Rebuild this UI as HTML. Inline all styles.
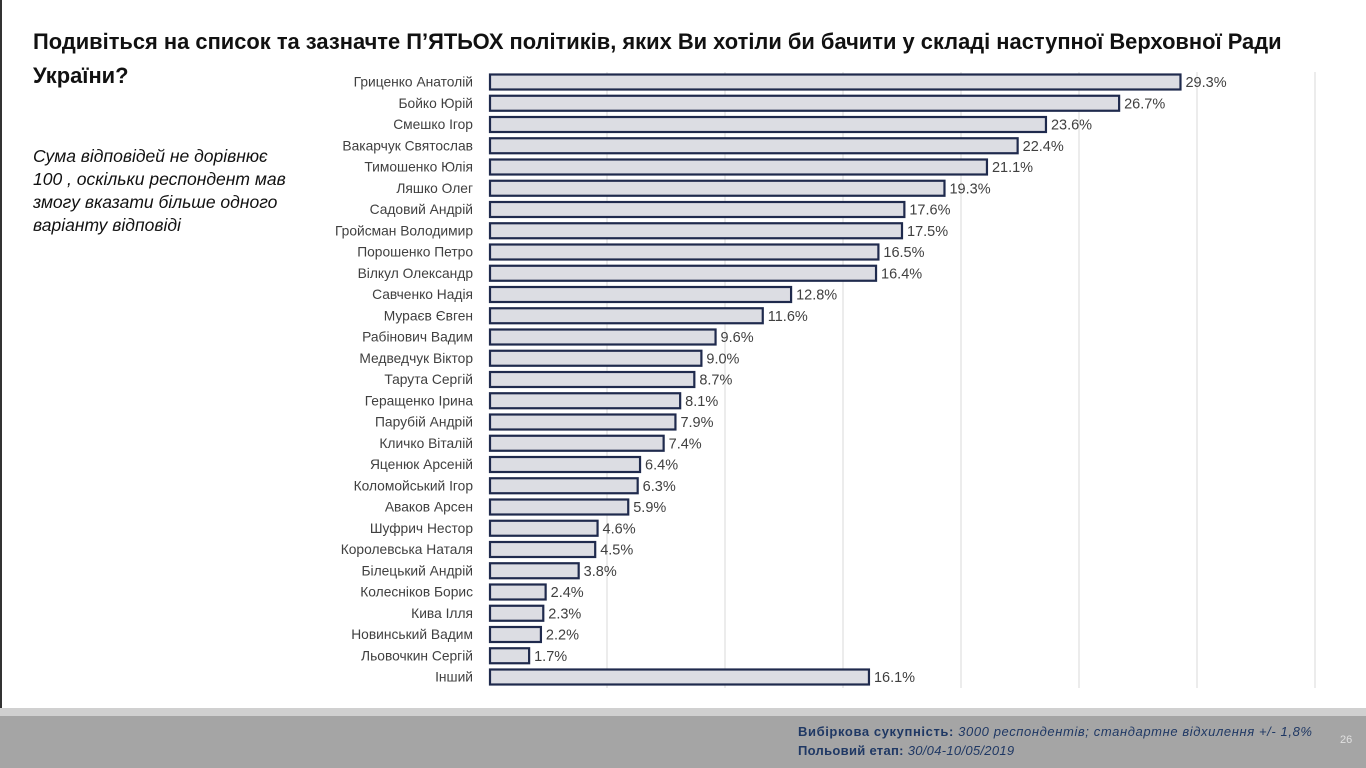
<!DOCTYPE html>
<html><head><meta charset="utf-8">
<style>
html,body{margin:0;padding:0;background:#fff;}
body{width:1366px;height:768px;position:relative;overflow:hidden;font-family:"Liberation Sans","DejaVu Sans",sans-serif;}
#lb{position:absolute;left:0;top:0;width:2px;height:708px;background:#333;}
#title{position:absolute;left:33px;top:25px;font-size:21.9px;font-weight:bold;color:#111;line-height:34px;width:1330px;white-space:nowrap;}
#note{position:absolute;left:33px;top:145px;font-size:17.5px;font-style:italic;color:#111;line-height:23px;width:300px;white-space:nowrap;}
#footer{position:absolute;left:0;top:708px;width:1366px;height:60px;background:#a5a5a5;border-top:8px solid #d0d0d0;box-sizing:border-box;}
#f1{position:absolute;left:798px;top:8px;font-size:13px;color:#1f3864;letter-spacing:0.6px;white-space:nowrap;}
#f2{position:absolute;left:798px;top:27px;font-size:13px;color:#1f3864;letter-spacing:0.3px;white-space:nowrap;}
#pg{position:absolute;left:1340px;top:18px;font-size:11px;color:#e0e0e0;}
svg{position:absolute;left:0;top:0;}
</style></head><body>
<div id="lb"></div>
<div id="title">Подивіться на список та зазначте П’ЯТЬОХ політиків, яких Ви хотіли би бачити у складі наступної Верховної Ради<br>України?</div>
<div id="note">Сума відповідей не дорівнює<br>100 , оскільки респондент мав<br>змогу вказати більше одного<br>варіанту відповіді</div>
<svg id="chart" width="1366" height="710"></svg>
<div id="footer">
<div id="f1"><b>Вибіркова сукупність:</b> <i>3000 респондентів; стандартне відхилення +/- 1,8%</i></div>
<div id="f2"><b>Польовий етап:</b> <i>30/04-10/05/2019</i></div>
<div id="pg">26</div>
</div>
<script>
const categories=["Гриценко Анатолій","Бойко Юрій","Смешко Ігор","Вакарчук Святослав","Тимошенко Юлія","Ляшко Олег","Садовий Андрій","Гройсман Володимир","Порошенко Петро","Вілкул Олександр","Савченко Надія","Мураєв Євген","Рабінович Вадим","Медведчук Віктор","Тарута Сергій","Геращенко Ірина","Парубій Андрій","Кличко Віталій","Яценюк Арсеній","Коломойський Ігор","Аваков Арсен","Шуфрич Нестор","Королевська Наталя","Білецький Андрій","Колесніков Борис","Кива Ілля","Новинський Вадим","Льовочкин Сергій","Інший"];
const values=[29.3,26.7,23.6,22.4,21.1,19.3,17.6,17.5,16.5,16.4,12.8,11.6,9.6,9.0,8.7,8.1,7.9,7.4,6.4,6.3,5.9,4.6,4.5,3.8,2.4,2.3,2.2,1.7,16.1];
const gridTicks=[5,10,15,20,25,30,35];
const svg=document.getElementById('chart');
const NS='http://www.w3.org/2000/svg';
const x0=489, pxPer=23.6, y0=82, step=21.25, bh=15;
const xs=v=>x0+v*pxPer;
const ys=i=>y0+i*step;
function mk(t,a){const e=document.createElementNS(NS,t);for(const k in a)e.setAttribute(k,a[k]);svg.appendChild(e);return e;}
gridTicks.forEach(t=>{
  const l=mk('line',{x1:xs(t),x2:xs(t),y1:72,y2:688,stroke:'#d9d9d9','stroke-width':1});
  
  
});
categories.forEach((c,i)=>{
  const cy=ys(i);
  const lab=mk('text',{x:473,y:cy+4.5,'text-anchor':'end','font-size':13.8,fill:'#404040','font-family':'Liberation Sans, sans-serif'});
  lab.textContent=c;
  
  
  const r=mk('rect',{x:x0+1,y:cy-bh/2,width:xs(values[i])-x0-1,height:bh,fill:'#dcdde3',stroke:'#1f2a4d','stroke-width':2.2});
  
  
  const v=mk('text',{x:xs(values[i])+5,y:cy+5,'font-size':14.5,fill:'#404040','font-family':'Liberation Sans, sans-serif'});
  v.textContent=values[i].toFixed(1)+'%';
  
  
});
</script>
</body></html>
